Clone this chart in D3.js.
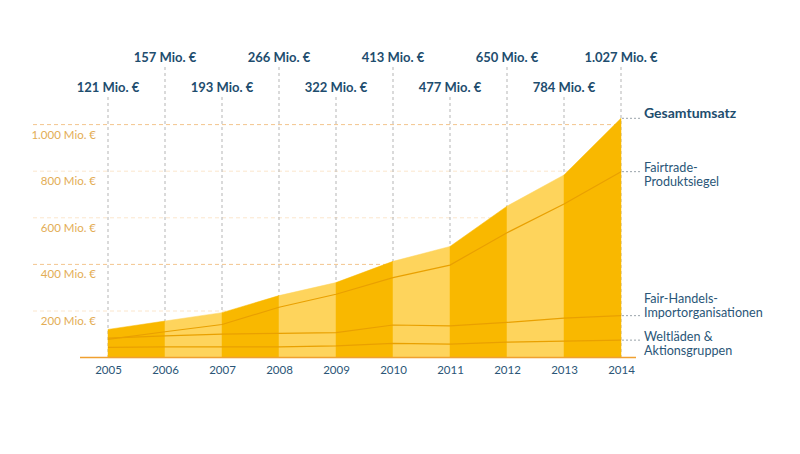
<!DOCTYPE html>
<html><head><meta charset="utf-8">
<script src="https://cdn.jsdelivr.net/npm/d3@7"></script>
<style>
body{margin:0;background:#fff;}
svg{display:block;font-family:Lato,"Open Sans",sans-serif;}
</style></head>
<body><svg id="c" width="800" height="454"></svg>
<script>
const years = [2005,2006,2007,2008,2009,2010,2011,2012,2013,2014];
const total = [121,157,193,266,322,413,477,650,784,1027];
const totalLabels = ["121 Mio. €","157 Mio. €","193 Mio. €","266 Mio. €","322 Mio. €","413 Mio. €","477 Mio. €","650 Mio. €","784 Mio. €","1.027 Mio. €"];
const fairtrade = [78,111,142,216,272,343,397,536,659,798];
const importOrg = [84,93,101,104,107,140,136,151,169,180];
const weltlaeden = [44,46,46,46,50,61,58,66,71,75];
const yTicks = [200,400,600,800,1000];
const yTickLabels = ["200 Mio. €","400 Mio. €","600 Mio. €","800 Mio. €","1.000 Mio. €"];
const legendItems = [
  {name:["Gesamtumsatz"], series:"total", bold:true},
  {name:["Fairtrade-","Produktsiegel"], series:"fairtrade"},
  {name:["Fair-Handels-","Importorganisationen"], series:"importOrg"},
  {name:["Weltläden &","Aktionsgruppen"], series:"weltlaeden"}
];
const seriesMap = {total, fairtrade, importOrg, weltlaeden};

const svg = d3.select("#c");
const x = d3.scaleLinear().domain([2005,2014]).range([108,621]);
const y = d3.scaleLinear().domain([0,1000]).range([357.6,124.6]);

const dark = "#f9b800", light = "#fed45c", lineCol = "#e9a000";
const blue = "#1e4d6e";

// horizontal gridlines
const g = svg.append("g");
yTicks.forEach((t,i)=>{
  const strong = (t===400||t===1000);
  g.append("line").attr("x1",33).attr("x2",621).attr("y1",y(t)).attr("y2",y(t))
    .attr("stroke", strong ? "#f3c58e" : "#fbe6cc").attr("stroke-width",1)
    .attr("stroke-dasharray","4,3");
  g.append("text").attr("x",96).attr("y",y(t)+14).attr("text-anchor","end")
    .attr("font-size","11.5px").attr("fill","#e3ad55").text(yTickLabels[i]);
});

// vertical dashed lines + total labels
years.forEach((yr,i)=>{
  const row1 = (i%2===1);
  const ly = row1 ? 62 : 92;
  g.append("line").attr("x1",x(yr)).attr("x2",x(yr)).attr("y1",ly+5).attr("y2",357)
    .attr("stroke","#b5b5b5").attr("stroke-width",1).attr("stroke-dasharray","3,3");
  g.append("text").attr("x",x(yr)).attr("y",ly).attr("text-anchor","middle")
    .attr("font-size","13px").attr("font-weight","bold").attr("fill",blue).text(totalLabels[i]);
});

// alternating area segments
const area = d3.area().x(d=>x(d[0])).y0(y(0)).y1(d=>y(d[1]));
for(let i=0;i<years.length-1;i++){
  const seg = [[years[i],total[i]],[years[i+1],total[i+1]]];
  svg.append("path").attr("d",area(seg)).attr("fill", i%2===0 ? dark : light)
    .attr("stroke", i%2===0 ? dark : light).attr("stroke-width",0.5);
}

// component lines
const line = d3.line().x((d,i)=>x(years[i])).y(d=>y(d));
[fairtrade, importOrg, weltlaeden].forEach(s=>{
  svg.append("path").attr("d",line(s)).attr("fill","none")
    .attr("stroke",lineCol).attr("stroke-width",1.2);
});

// x axis baseline
svg.append("line").attr("x1",80).attr("x2",636).attr("y1",357.5).attr("y2",357.5)
  .attr("stroke","#f0a030").attr("stroke-width",1.5);
const xAxis = d3.axisBottom(x).tickValues(years).tickFormat(d3.format("d")).tickSize(0).tickPadding(8);
const ax = svg.append("g").attr("transform","translate(0,357.5)").call(xAxis);
ax.select(".domain").remove();
ax.selectAll("text").attr("font-size","11.5px").attr("fill","#2b5677").attr("font-family","Lato,sans-serif");

// legend
const legendY = [113, 167, 298, 336];
legendItems.forEach((it,k)=>{
  const s = seriesMap[it.series];
  const vy = y(s[s.length-1]);
  const ty = legendY[k];
  svg.append("line").attr("x1",622).attr("x2",641).attr("y1",vy).attr("y2",vy)
    .attr("stroke","#9aa3aa").attr("stroke-width",1).attr("stroke-dasharray","2,2");
  it.name.forEach((n,j)=>{
    svg.append("text").attr("x",644).attr("y",ty+4.5+j*14)
      .attr("font-size", it.bold ? "14px":"12.6px")
      .attr("font-weight", it.bold ? "bold":"normal")
      .attr("fill", it.bold ? blue : "#2a5678").text(n);
  });
});
</script></body></html>
